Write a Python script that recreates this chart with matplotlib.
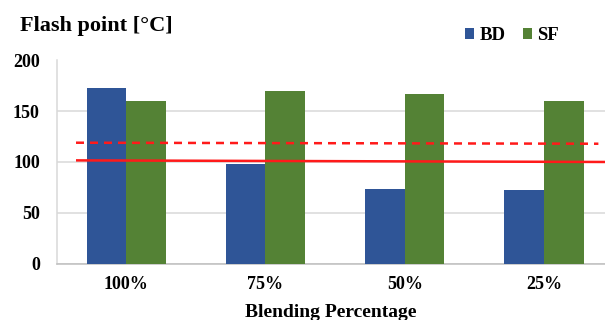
import matplotlib
matplotlib.use("Agg")
import matplotlib.pyplot as plt
import numpy as np

# Flash point of biodiesel (BD) and blend (SF) by blending percentage
categories = ["100%", "75%", "50%", "25%"]
bd_values = [173, 98, 73.5, 72.5]
sf_values = [160, 170, 167, 160]

# Reference limit lines (start/end category positions and levels)
solid_x = [-0.36, 3.5]
solid_vals = [101.6, 100.0]
dashed_x = [-0.36, 3.39]
dashed_vals = [119.0, 118.0]

y_ticks = [0, 50, 100, 150, 200]

BD_COLOR = "#2F5597"
SF_COLOR = "#548235"
GRID_COLOR = "#D9D9D9"
RED = "#FF1A1A"

plt.rcParams["font.family"] = ["Liberation Serif", "DejaVu Serif"]
plt.rcParams["font.weight"] = "bold"

W, H = 605, 320
fig = plt.figure(figsize=(W / 100, H / 100), dpi=100)

left_px, right_px = 56.5, 605
top_px, bottom_px = 60.5, 263.5
ax = fig.add_axes([left_px / W, 1 - bottom_px / H,
                   (right_px - left_px) / W, (bottom_px - top_px) / H])

x = np.arange(len(categories))
bw = 0.284
ax.bar(x - bw / 2, bd_values, width=bw, color=BD_COLOR, label="BD", zorder=3)
ax.bar(x + bw / 2, sf_values, width=bw, color=SF_COLOR, label="SF", zorder=3)

ax.plot(solid_x, solid_vals, color=RED, lw=1.8, zorder=4, solid_capstyle="butt")
ax.plot(dashed_x, dashed_vals, color=RED, lw=1.8, ls=(0, (3.2, 2.4)), zorder=4)

ax.set_ylim(0, 200)
ax.set_yticks(y_ticks)
ax.set_xlim(-0.5, -0.5 + (right_px - left_px) / 139.3)
ax.set_xticks(x)
ax.set_xticklabels(categories)

ax.grid(axis="y", color=GRID_COLOR, lw=1.1, zorder=0)
ax.set_axisbelow(True)
for s in ["top", "right"]:
    ax.spines[s].set_visible(False)
ax.spines["left"].set_color(GRID_COLOR)
ax.spines["left"].set_linewidth(1.1)
ax.spines["bottom"].set_color("#BFBFBF")
ax.spines["bottom"].set_linewidth(1.1)

ax.tick_params(axis="both", length=0, labelsize=13, colors="black")
ax.tick_params(axis="y", pad=12)
ax.tick_params(axis="x", pad=9)
for lbl in ax.get_xticklabels() + ax.get_yticklabels():
    lbl.set_fontweight("bold")

ax.set_xlabel("Blending Percentage", fontsize=14, fontweight="bold", labelpad=8)

fig.text(20 / W, 1 - 31 / H, "Flash point [°C]", fontsize=16, fontweight="bold",
         ha="left", va="baseline")

leg = fig.legend(loc="center left", bbox_to_anchor=(465 / W, 1 - 35.5 / H),
                 ncol=2, frameon=False, fontsize=13.5, borderpad=0,
                 borderaxespad=0, handlelength=0.48, handleheight=0.48,
                 handletextpad=0.28, columnspacing=0.94)
for t in leg.get_texts():
    t.set_fontweight("bold")

fig.savefig("out.png", dpi=100)
